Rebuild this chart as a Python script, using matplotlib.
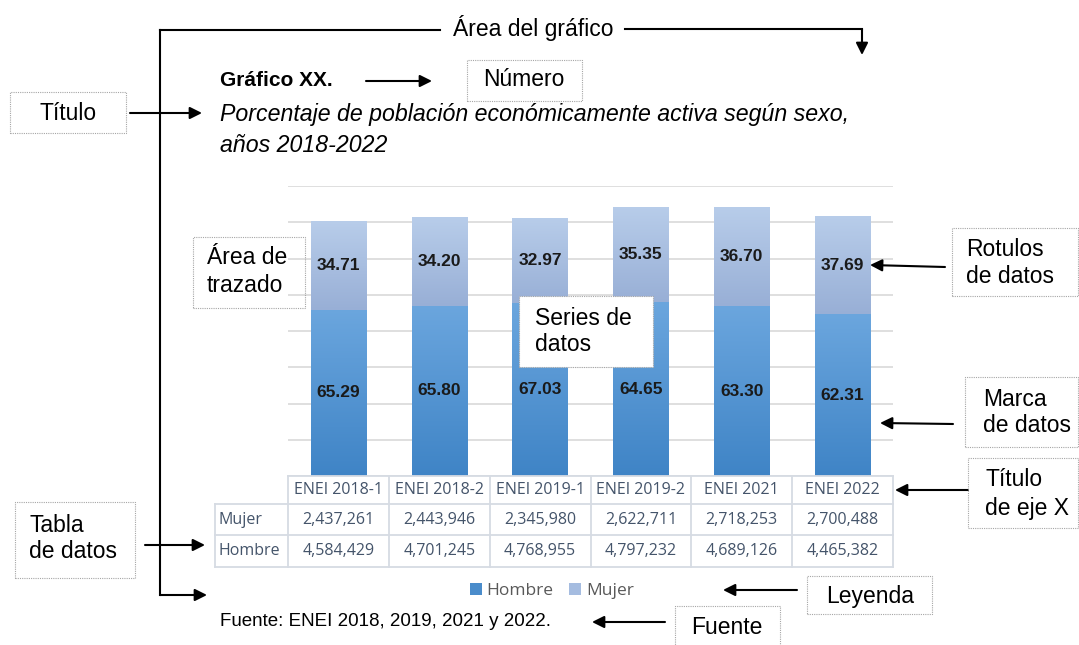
import numpy as np
import matplotlib
matplotlib.use("Agg")
import matplotlib.pyplot as plt
import matplotlib.transforms as mtransforms
from matplotlib.patches import Rectangle, Patch, FancyArrowPatch
from matplotlib.lines import Line2D
from matplotlib.colors import LinearSegmentedColormap

plt.rcParams["font.family"] = ["Liberation Sans", "DejaVu Sans"]

# datos
categorias = ["ENEI 2018-1", "ENEI 2018-2", "ENEI 2019-1", "ENEI 2019-2", "ENEI 2021", "ENEI 2022"]
hombre = [4584429, 4701245, 4768955, 4797232, 4689126, 4465382]
mujer = [2437261, 2443946, 2345980, 2622711, 2718253, 2700488]
pct_hombre = [65.29, 65.80, 67.03, 64.65, 63.30, 62.31]
pct_mujer = [34.71, 34.20, 32.97, 35.35, 36.70, 37.69]

W, H = 1079, 645
fig = plt.figure(figsize=(W / 100, H / 100), dpi=100)


def fx(x):
    return x / W


def fy(y):
    return 1 - y / H


ax = fig.add_axes([fx(288), fy(476), fx(893) - fx(288), fy(186) - fy(476)])

x = np.arange(len(categorias))
b_h = ax.bar(x, hombre, width=0.55, color="#4a8ccb", edgecolor="none", zorder=2)
b_m = ax.bar(x, mujer, bottom=hombre, width=0.55, color="#a5bce0", edgecolor="none", zorder=2)


def degradado(barras, c_abajo, c_arriba):
    cmap = LinearSegmentedColormap.from_list("g", [c_abajo, c_arriba])
    grad = np.linspace(0, 1, 256).reshape(-1, 1)
    for b in barras:
        x0, y0, w, h = b.get_x(), b.get_y(), b.get_width(), b.get_height()
        im = ax.imshow(grad, cmap=cmap, origin="lower", aspect="auto",
                       extent=[x0, x0 + w, y0, y0 + h], zorder=2.5)
        im.set_clip_path(b)


degradado(b_h, "#3f84c6", "#6ba6de")
degradado(b_m, "#98afd6", "#b8cdea")

for barras, pct in [(b_h, pct_hombre), (b_m, pct_mujer)]:
    for t in ax.bar_label(barras, labels=[f"{v:.2f}" for v in pct], label_type="center",
                          fontsize=12.5, fontweight="bold", color="#1a1a1a"):
        t.set_zorder(5)

ax.set_xlim(-0.5, len(categorias) - 0.5)
ax.set_ylim(0, 8000000)
ax.set_yticks(np.arange(0, 8000001, 1000000))
ax.yaxis.grid(True, color="#dcdcdc", linewidth=1.3)
ax.set_axisbelow(True)
ax.tick_params(left=False, bottom=False, labelleft=False, labelbottom=False)
for s in ax.spines.values():
    s.set_visible(False)

# tabla de datos
tr = mtransforms.blended_transform_factory(ax.transData, fig.transFigure)
c_tabla = "#d6dbe3"
c_txt = "#44546a"
tfont = dict(family=["Open Sans", "DejaVu Sans"], fontsize=11.5, color=c_txt)
filas_y = [476, 504, 535, 567]
for i, yy in enumerate(filas_y):
    x_ini = 288 if i == 0 else 215
    fig.add_artist(Line2D([fx(x_ini), fx(893)], [fy(yy), fy(yy)], transform=fig.transFigure,
                          color=c_tabla, lw=1.3))
for k in range(len(categorias) + 1):
    fig.add_artist(Line2D([k - 0.5, k - 0.5], [fy(476), fy(567)], transform=tr, color=c_tabla, lw=1.3))
fig.add_artist(Line2D([fx(215), fx(215)], [fy(504), fy(567)], transform=fig.transFigure,
                      color=c_tabla, lw=1.3))
for i, cat in enumerate(categorias):
    fig.text(i, fy(490), cat, transform=tr, ha="center", va="center", **tfont)
    fig.text(i, fy(520), f"{mujer[i]:,}", transform=tr, ha="center", va="center", **tfont)
    fig.text(i, fy(551), f"{hombre[i]:,}", transform=tr, ha="center", va="center", **tfont)
fig.text(fx(219), fy(520), "Mujer", ha="left", va="center", **tfont)
fig.text(fx(219), fy(551), "Hombre", ha="left", va="center", **tfont)

# leyenda
fig.legend(handles=[Patch(facecolor="#4a8ccb", label="Hombre"), Patch(facecolor="#a5bce0", label="Mujer")],
           loc="center", bbox_to_anchor=(fx(552), fy(591)), ncol=2, frameon=False,
           handlelength=0.65, handleheight=0.65, handletextpad=0.3, columnspacing=0.9,
           prop={"family": ["Open Sans", "DejaVu Sans"], "size": 12.5}, labelcolor="#595959")

# titulo y fuente
fig.text(fx(220), fy(80), "Gráfico XX.", fontsize=15, fontweight="bold", va="center")
fig.text(fx(220), fy(115), "Porcentaje de población económicamente activa según sexo,",
         fontsize=16.7, style="italic", va="center")
fig.text(fx(220), fy(146), "años 2018-2022", fontsize=16.7, style="italic", va="center")
fig.text(fx(220), fy(622), "Fuente: ENEI 2018, 2019, 2021 y 2022.", fontsize=13.5, va="center")


# anotaciones
def caja(x0, y0, x1, y1, fondo=False):
    fig.add_artist(Rectangle((fx(x0), fy(y1)), fx(x1) - fx(x0), fy(y0) - fy(y1),
                             transform=fig.transFigure, facecolor="white", fill=fondo,
                             edgecolor="#a6a6a6", linestyle=(0, (1, 1)), linewidth=0.8, zorder=6))


def flecha(x0, y0, x1, y1):
    fig.add_artist(FancyArrowPatch((fx(x0), fy(y0)), (fx(x1), fy(y1)), transform=fig.transFigure,
                                   arrowstyle="-|>", mutation_scale=18, color="black", lw=1.5,
                                   shrinkA=0, shrinkB=0))


def linea(xs, ys):
    fig.add_artist(Line2D([fx(v) for v in xs], [fy(v) for v in ys], transform=fig.transFigure,
                          color="black", lw=1.5))


def rotulo(xx, yy, s, ha="left"):
    fig.text(fx(xx), fy(yy), s, fontsize=16.5, ha=ha, va="center", zorder=7)


rotulo(533, 28, "Área del gráfico", ha="center")
linea([160, 440], [30, 30])
linea([160, 160], [30, 595])
flecha(160, 595, 207, 595)
linea([625, 862], [29, 29])
flecha(862, 29, 862, 55)

caja(467, 60, 582, 101)
rotulo(524, 80, "Número", ha="center")
flecha(366, 81, 432, 81)

caja(10, 92, 126, 133)
rotulo(68, 113, "Título", ha="center")
flecha(130, 113, 202, 113)

caja(193, 237, 305, 308)
rotulo(207, 258, "Área de")
rotulo(207, 285, "trazado")

caja(519, 296, 653, 367, fondo=True)
rotulo(535, 318, "Series de")
rotulo(535, 345, "datos")

caja(952, 228, 1078, 296)
rotulo(966, 249, "Rotulos")
rotulo(966, 276, "de datos")
flecha(945, 267, 870, 265)

caja(965, 377, 1078, 447)
rotulo(983, 399, "Marca")
rotulo(983, 426, "de datos")
flecha(953, 424, 880, 423)

caja(968, 458, 1078, 528)
rotulo(985, 480, "Título")
rotulo(985, 508, "de eje X")
flecha(968, 490, 895, 490)

caja(15, 502, 135, 578)
rotulo(29, 525, "Tabla")
rotulo(29, 552, "de datos")
flecha(145, 545, 205, 545)

caja(807, 576, 932, 614)
rotulo(870, 597, "Leyenda", ha="center")
flecha(797, 590, 723, 590)

caja(675, 606, 780, 647)
rotulo(727, 628, "Fuente", ha="center")
flecha(665, 622, 592, 622)

fig.savefig("out.png", dpi=100)
